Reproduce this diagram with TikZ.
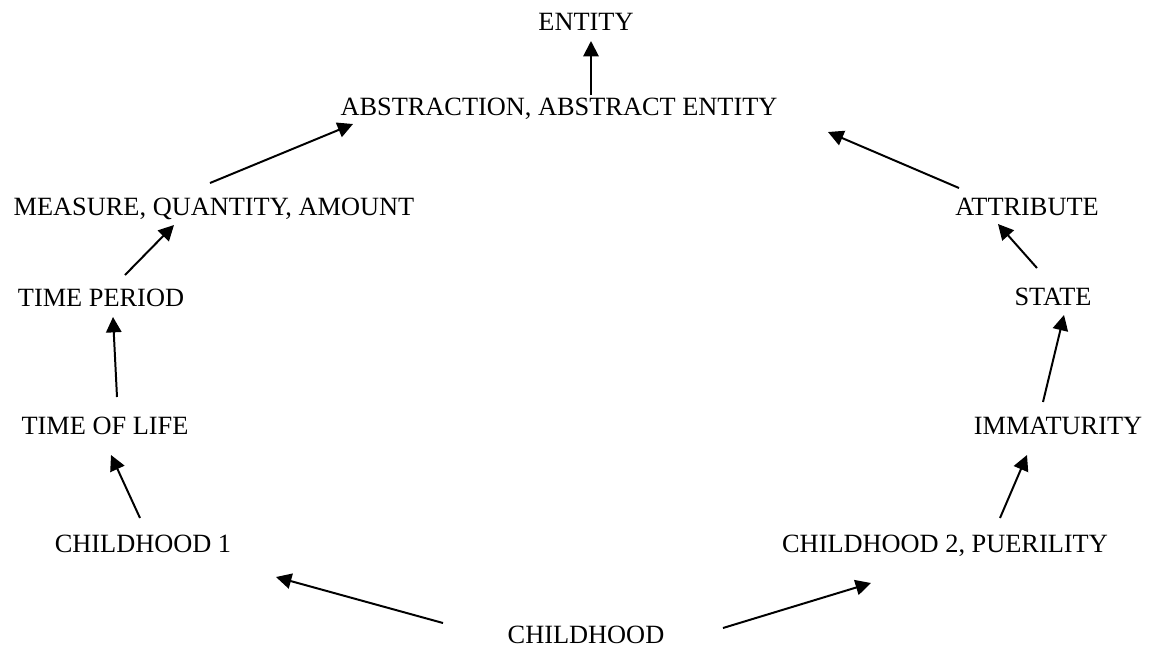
\documentclass[tikz,border=0pt]{standalone}
\usepackage{fontspec}
\setmainfont{Liberation Serif}
\usetikzlibrary{arrows.meta}
\usetikzlibrary{positioning}

\begin{document}
\begin{tikzpicture}[x=0.016cm,y=-0.016cm,
  lbl/.style={anchor=base,inner sep=0pt,font=\fontsize{12}{14}\selectfont},
  arr/.style={line width=0.9pt,-{Triangle[length=7pt,width=7pt]}}]
  \useasboundingbox (0,0) rectangle (1149,648);

  \node[lbl] (ent) at (586,30) {ENTITY};
  \node[lbl] (abs) at (559,115) {ABSTRACTION, ABSTRACT ENTITY};
  \node[lbl] (meas) at (214,215) {MEASURE, QUANTITY, AMOUNT};
  \node[lbl] (per) at (101,306) {TIME PERIOD};
  \node[lbl] (life) at (105,434) {TIME OF LIFE};
  \node[lbl] (ch1) at (143,552) {CHILDHOOD 1};
  \node[lbl] (ch) at (586,643) {CHILDHOOD};
  \node[lbl] (ch2) at (945,552) {CHILDHOOD 2, PUERILITY};
  \node[lbl] (imm) at (1058,434) {IMMATURITY};
  \node[lbl] (state) at (1053,305) {STATE};
  \node[lbl] (attr) at (1027,215) {ATTRIBUTE};

  % left branch
  \draw[arr]([shift={(-143,-20)}]ch.base)--([shift={(133,25)}]ch1.base);
  \draw[arr]([shift={(-3,-34)}]ch1.base)--([shift={(6,21)}]life.base);
  \draw[arr]([shift={(12,-37)}]life.base)--([shift={(12,11)}]per.base);
  \draw[arr]([shift={(24,-31)}]per.base)--([shift={(-40,10)}]meas.base);
  \draw[arr]([shift={(-4,-32)}]meas.base)--([shift={(-206,9)}]abs.base);
  % right branch
  \draw[arr]([shift={(137,-15)}]ch.base)--([shift={(-74,31)}]ch2.base);
  \draw[arr]([shift={(55,-34)}]ch2.base)--([shift={(-31,21)}]imm.base);
  \draw[arr]([shift={(-15,-32)}]imm.base)--([shift={(11,10)}]state.base);
  \draw[arr]([shift={(-16,-37)}]state.base)--([shift={(-29,9)}]attr.base);
  \draw[arr]([shift={(-68,-27)}]attr.base)--([shift={(269,17)}]abs.base);
  % top
  \draw[arr]([shift={(32,-20)}]abs.base)--([shift={(5,11)}]ent.base);
\end{tikzpicture}
\end{document}
